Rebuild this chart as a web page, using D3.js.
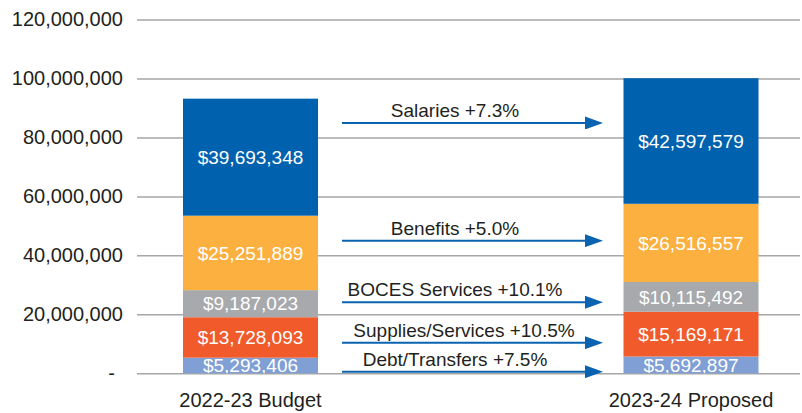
<html>
<head>
  <style>
    body {
      margin: 0px;
      padding: 0px;
      background-color: white;
    }

    svg {
      display: block;
      font-family: "Liberation Sans", Arial, sans-serif;
    }
  </style>
</head>
<body>
  <div id="chart"></div>
  <script src="https://cdnjs.cloudflare.com/ajax/libs/d3/7.8.5/d3.min.js"></script>
  <script>
    // data, bottom segment first
    var categories = ['2022-23 Budget', '2023-24 Proposed'];
    var seriesNames = ['Debt/Transfers', 'Supplies/Services', 'BOCES Services', 'Benefits', 'Salaries'];
    var debtTransfers = [5293406, 5692897];
    var suppliesServices = [13728093, 15169171];
    var bocesServices = [9187023, 10115492];
    var benefits = [25251889, 26516557];
    var salaries = [39693348, 42597579];
    var yTicks = [0, 20000000, 40000000, 60000000, 80000000, 100000000, 120000000];

    var colors = ['#7f9fd5', '#f15a2b', '#a7a9ac', '#fbb040', '#0061ae'];
    var arrowColor = '#0a63b0';
    // where each change arrow sits (in dollars on the y scale)
    var arrowLevels = [550000, 10400000, 24100000, 45000000, 84900000];
    var labelShift = [0, 9, 0, 0, 0];

    var width = 802, height = 413;
    var svg = d3.select('#chart').append('svg')
      .attr('width', width)
      .attr('height', height);

    var y = d3.scaleLinear().domain([0, 120000000]).range([373.3, 19.5]);
    var x = d3.scalePoint().domain(categories).range([250.5, 691]);
    var barWidth = 135;
    var gridLeft = 137, gridRight = 800;

    var rows = categories.map(function(c, i) {
      return {
        cat: c,
        'Debt/Transfers': debtTransfers[i],
        'Supplies/Services': suppliesServices[i],
        'BOCES Services': bocesServices[i],
        'Benefits': benefits[i],
        'Salaries': salaries[i]
      };
    });
    var stacked = d3.stack().keys(seriesNames)(rows);

    // gridlines + y labels
    var yAxis = d3.axisLeft(y)
      .tickValues(yTicks)
      .tickSize(-(gridRight - gridLeft))
      .tickPadding(14)
      .tickFormat(function(d) { return d === 0 ? '-' : d3.format(',')(d); });

    var gAxis = svg.append('g')
      .attr('transform', 'translate(' + gridLeft + ',0)')
      .call(yAxis);
    gAxis.select('.domain').remove();
    gAxis.selectAll('.tick line')
      .attr('stroke', '#a6a6a6')
      .attr('stroke-width', 1.5);
    gAxis.selectAll('.tick text')
      .attr('fill', '#231f20')
      .attr('font-size', '20px')
      .attr('font-family', '"Liberation Sans", Arial, sans-serif');
    gAxis.selectAll('.tick text')
      .filter(function(d) { return d === 0; })
      .attr('dx', -8);

    // bars
    var layers = svg.selectAll('g.layer')
      .data(stacked)
      .enter()
      .append('g')
      .attr('class', 'layer')
      .attr('fill', function(d, i) { return colors[i]; });

    layers.selectAll('rect')
      .data(function(d) { return d; })
      .enter()
      .append('rect')
      .attr('x', function(d) { return x(d.data.cat) - barWidth / 2; })
      .attr('y', function(d) { return y(d[1]); })
      .attr('width', barWidth)
      .attr('height', function(d) { return y(d[0]) - y(d[1]); });

    // value labels, clipped at the zero line
    svg.append('clipPath').attr('id', 'plotClip')
      .append('rect')
      .attr('x', 0).attr('y', 0)
      .attr('width', width).attr('height', y(0));

    var labelG = svg.append('g').attr('clip-path', 'url(#plotClip)');
    stacked.forEach(function(layer) {
      labelG.selectAll(null)
        .data(layer)
        .enter()
        .append('text')
        .attr('x', function(d) { return x(d.data.cat); })
        .attr('y', function(d) { return (y(d[0]) + y(d[1])) / 2; })
        .attr('dy', '0.35em')
        .attr('text-anchor', 'middle')
        .attr('fill', 'white')
        .attr('font-size', '19px')
        .text(function(d) { return '$' + d3.format(',')(d[1] - d[0]); });
    });

    // x labels
    svg.selectAll('text.xlab')
      .data(categories)
      .enter()
      .append('text')
      .attr('class', 'xlab')
      .attr('x', function(d) { return x(d); })
      .attr('y', 400)
      .attr('dy', '0.35em')
      .attr('text-anchor', 'middle')
      .attr('fill', '#231f20')
      .attr('font-size', '20px')
      .text(function(d) { return d; });

    // change arrows
    svg.append('defs').append('marker')
      .attr('id', 'head')
      .attr('viewBox', '0 0 18 13')
      .attr('refX', 0)
      .attr('refY', 6.5)
      .attr('markerUnits', 'userSpaceOnUse')
      .attr('markerWidth', 18)
      .attr('markerHeight', 13)
      .attr('orient', 'auto')
      .append('path')
      .attr('d', 'M0,0L18,6.5L0,13Z')
      .attr('fill', arrowColor);

    var arrowStart = 342, arrowEnd = 585;
    var changes = seriesNames.map(function(name, i) {
      var layer = stacked[i];
      var a = layer[0][1] - layer[0][0];
      var b = layer[1][1] - layer[1][0];
      return { name: name, pct: (b / a - 1) * 100, level: arrowLevels[i], shift: labelShift[i] };
    });

    var arrows = svg.selectAll('g.arrow')
      .data(changes)
      .enter()
      .append('g')
      .attr('class', 'arrow');

    arrows.append('line')
      .attr('x1', arrowStart)
      .attr('x2', arrowEnd)
      .attr('y1', function(d) { return y(d.level); })
      .attr('y2', function(d) { return y(d.level); })
      .attr('stroke', arrowColor)
      .attr('stroke-width', 2)
      .attr('marker-end', 'url(#head)');

    arrows.append('text')
      .attr('x', function(d) { return 455 + d.shift; })
      .attr('y', function(d) { return y(d.level) - 6; })
      .attr('text-anchor', 'middle')
      .attr('fill', '#231f20')
      .attr('font-size', '19px')
      .text(function(d) { return d.name + ' +' + d.pct.toFixed(1) + '%'; });
  </script>
</body>
</html>
